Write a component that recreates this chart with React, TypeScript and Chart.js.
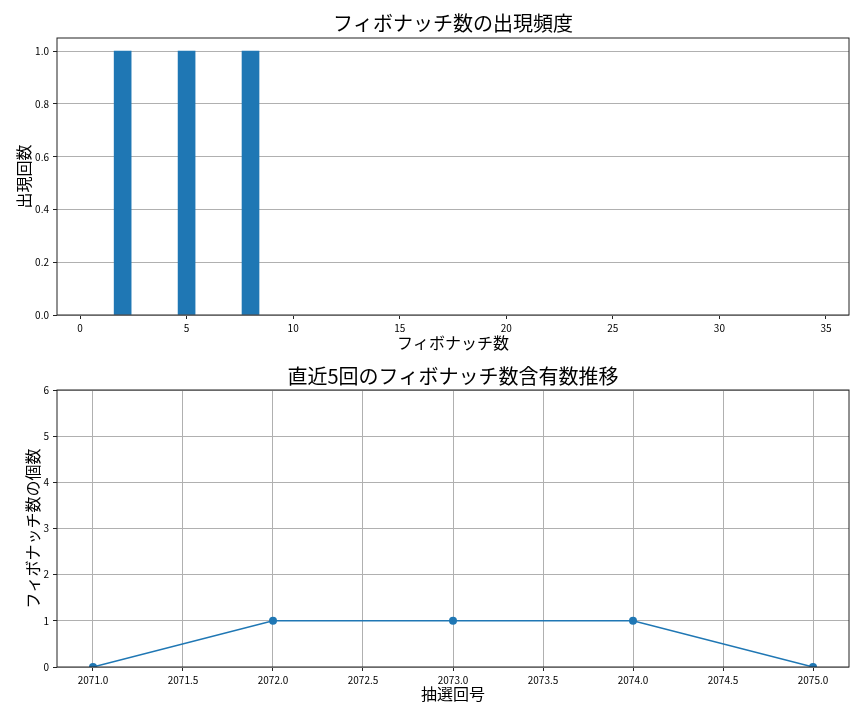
import { useEffect, useRef } from 'react'
import { Chart, registerables } from 'chart.js'

Chart.register(...registerables)

// histogram: which fibonacci numbers came up, and how often
const fibValues = [2, 5, 8]
const fibFrequency = [1, 1, 1]
const histXTicks = [0, 5, 10, 15, 20, 25, 30, 35]
const histYTicks = [0, 0.2, 0.4, 0.6, 0.8, 1.0]

// last 5 draws: how many fibonacci numbers each draw contained
const drawNumbers = [2071, 2072, 2073, 2074, 2075]
const fibCountPerDraw = [0, 1, 1, 1, 0]
const trendXTicks = [2071.0, 2071.5, 2072.0, 2072.5, 2073.0, 2073.5, 2074.0, 2074.5, 2075.0]
const trendYTicks = [0, 1, 2, 3, 4, 5, 6]

const FONT = '"Noto Sans CJK JP", "Noto Sans", sans-serif'
const BLUE = '#1f77b4'
const GRID = '#b0b0b0'
const AXIS = '#222222'

Chart.defaults.font.family = FONT
Chart.defaults.color = '#000'

// matplotlib style box round the plot area
const framePlugin = {
  id: 'frame',
  afterDatasetsDraw(chart: Chart) {
    const { ctx, chartArea } = chart
    ctx.save()
    ctx.strokeStyle = AXIS
    ctx.lineWidth = 1
    ctx.strokeRect(chartArea.left, chartArea.top, chartArea.right - chartArea.left, chartArea.bottom - chartArea.top)
    ctx.restore()
  },
}

const fixedTicks = (values: number[]) => (scale: any) => {
  scale.ticks = values.map((v) => ({ value: v }))
}

function HistogramChart() {
  const canvasRef = useRef<HTMLCanvasElement>(null)

  useEffect(() => {
    if (!canvasRef.current) return
    const chart = new Chart(canvasRef.current, {
      type: 'bar',
      data: {
        datasets: [
          {
            data: fibValues.map((v, i) => ({ x: v, y: fibFrequency[i] })),
            backgroundColor: BLUE,
            borderWidth: 0,
            barThickness: 17,
          },
        ],
      },
      options: {
        responsive: false,
        animation: false,
        layout: { padding: { left: 0, right: 15, top: 0, bottom: 0 } },
        plugins: {
          legend: { display: false },
          tooltip: { enabled: false },
          title: {
            display: true,
            fullSize: false,
            text: 'フィボナッチ数の出現頻度',
            font: { size: 20, weight: 'normal', family: FONT },
            color: '#000',
            padding: { top: 11, bottom: 3 },
          },
        },
        scales: {
          x: {
            type: 'linear',
            min: -1.08,
            max: 36.08,
            offset: false,
            afterBuildTicks: fixedTicks(histXTicks),
            afterFit: (scale: any) => {
              scale.height = 45
            },
            grid: { offset: false, drawOnChartArea: false, tickLength: 4, tickColor: AXIS },
            border: { display: false },
            ticks: { font: { size: 10 }, padding: 3, maxRotation: 0, color: '#000' },
            title: {
              display: true,
              text: 'フィボナッチ数',
              font: { size: 16, family: FONT },
              color: '#000',
              padding: { top: 0, bottom: 7 },
            },
          },
          y: {
            min: 0,
            max: 1.05,
            afterBuildTicks: fixedTicks(histYTicks),
            afterFit: (scale: any) => {
              scale.width = 57
            },
            grid: { color: GRID, lineWidth: 1, tickLength: 4, tickColor: AXIS },
            border: { display: false },
            ticks: {
              font: { size: 10 },
              padding: 4,
              color: '#000',
              callback: (v: any) => Number(v).toFixed(1),
            },
            title: {
              display: true,
              text: '出現回数',
              font: { size: 16, family: FONT },
              color: '#000',
              padding: { top: 14, bottom: 0 },
            },
          },
        },
      },
      plugins: [framePlugin],
    })
    return () => chart.destroy()
  }, [])

  return <canvas ref={canvasRef} width={864} height={360} style={{ display: 'block' }} />
}

function TrendChart() {
  const canvasRef = useRef<HTMLCanvasElement>(null)

  useEffect(() => {
    if (!canvasRef.current) return
    const chart = new Chart(canvasRef.current, {
      type: 'line',
      data: {
        datasets: [
          {
            data: drawNumbers.map((d, i) => ({ x: d, y: fibCountPerDraw[i] })),
            borderColor: BLUE,
            backgroundColor: BLUE,
            borderWidth: 1.5,
            pointRadius: 4,
            pointBorderWidth: 0,
            pointBackgroundColor: BLUE,
            tension: 0,
            clip: 0,
          },
        ],
      },
      options: {
        responsive: false,
        animation: false,
        layout: { padding: { left: 0, right: 15, top: 0, bottom: 0 } },
        plugins: {
          legend: { display: false },
          tooltip: { enabled: false },
          title: {
            display: true,
            fullSize: false,
            text: '直近5回のフィボナッチ数含有数推移',
            font: { size: 20, weight: 'normal', family: FONT },
            color: '#000',
            padding: { top: 4, bottom: 2 },
          },
        },
        scales: {
          x: {
            type: 'linear',
            min: 2070.8,
            max: 2075.2,
            afterBuildTicks: fixedTicks(trendXTicks),
            afterFit: (scale: any) => {
              scale.height = 53
            },
            grid: { color: GRID, lineWidth: 1, tickLength: 4, tickColor: AXIS },
            border: { display: false },
            ticks: {
              font: { size: 10 },
              padding: 3,
              maxRotation: 0,
              color: '#000',
              callback: (v: any) => Number(v).toFixed(1),
            },
            title: {
              display: true,
              text: '抽選回号',
              font: { size: 16, family: FONT },
              color: '#000',
              padding: { top: 0, bottom: 16 },
            },
          },
          y: {
            min: 0,
            max: 6,
            afterBuildTicks: fixedTicks(trendYTicks),
            afterFit: (scale: any) => {
              scale.width = 57
            },
            grid: { color: GRID, lineWidth: 1, tickLength: 4, tickColor: AXIS },
            border: { display: false },
            ticks: { font: { size: 10 }, padding: 4, color: '#000' },
            title: {
              display: true,
              text: 'フィボナッチ数の個数',
              font: { size: 16, family: FONT },
              color: '#000',
              padding: { top: 23, bottom: 0 },
            },
          },
        },
      },
      plugins: [framePlugin],
    })
    return () => chart.destroy()
  }, [])

  return <canvas ref={canvasRef} width={864} height={360} style={{ display: 'block' }} />
}

export default function App() {
  return (
    <div style={{ position: 'absolute', left: 0, top: 0, width: 864, height: 720, background: '#fff' }}>
      <HistogramChart />
      <TrendChart />
    </div>
  )
}
